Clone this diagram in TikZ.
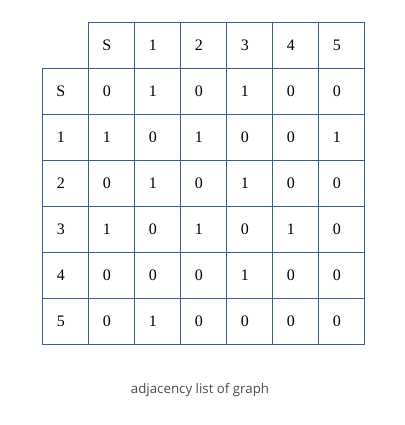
\documentclass[tikz,border=0pt]{standalone}
\usepackage{fontspec}
\setmainfont{Liberation Serif}
\newfontfamily\captfont{Open Sans}
\definecolor{gridblue}{RGB}{59,92,150}
\definecolor{captgray}{RGB}{75,75,75}
\tikzset{
  cell/.style={draw=gridblue, line width=0.9pt, minimum size=46pt, inner sep=0pt,
    font=\fontsize{16}{18}\selectfont, execute at begin node=\kern-8.5pt},
  capt/.style={text=captgray, font=\captfont\fontsize{13.3}{15}\selectfont, anchor=base}
}
\begin{document}
\begin{tikzpicture}[x=1pt,y=-1pt]
\useasboundingbox (0,0) rectangle (404,425);
% header row and column
\foreach \h [count=\j] in {S,1,2,3,4,5} {
  \node[cell] (h-\j) at (65+46*\j,45) {\h};
  \node[cell] (r-\j) at (65,45+46*\j) {\h};
}
% entries
\foreach \vals [count=\i] in {{0,1,0,1,0,0},{1,0,1,0,0,1},{0,1,0,1,0,0},{1,0,1,0,1,0},{0,0,0,1,0,0},{0,1,0,0,0,0}} {
  \foreach \v [count=\j] in \vals {
    \node[cell] (c-\i-\j) at (65+46*\j,45+46*\i) {\v};
  }
}
\node[capt] (cap) at (200,393) {adjacency list of graph};
\end{tikzpicture}
\end{document}
